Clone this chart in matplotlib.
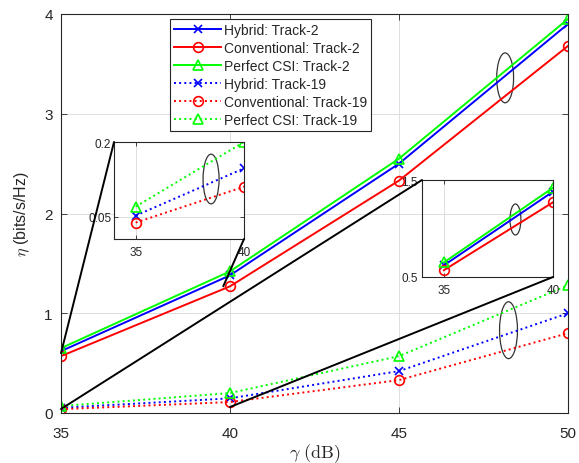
import matplotlib
matplotlib.use("Agg")
import matplotlib.pyplot as plt
from matplotlib.patches import Ellipse, ConnectionPatch

plt.rcParams['font.family'] = ['Liberation Sans', 'DejaVu Sans']
plt.rcParams['mathtext.fontset'] = 'cm'

gamma = [35, 40, 45, 50]
hyb_t2 = [0.62, 1.38, 2.50, 3.90]
conv_t2 = [0.57, 1.27, 2.33, 3.68]
perf_t2 = [0.65, 1.42, 2.55, 3.95]
hyb_t19 = [0.052, 0.147, 0.42, 1.00]
conv_t19 = [0.038, 0.11, 0.33, 0.80]
perf_t19 = [0.07, 0.20, 0.57, 1.28]

labels = ['Hybrid: Track-2', 'Conventional: Track-2', 'Perfect CSI: Track-2',
          'Hybrid: Track-19', 'Conventional: Track-19', 'Perfect CSI: Track-19']

series = [
    (hyb_t2, 'b', '-', 'x', 6, labels[0]),
    (conv_t2, 'r', '-', 'o', 7, labels[1]),
    (perf_t2, '#00ff00', '-', '^', 7.5, labels[2]),
    (hyb_t19, 'b', ':', 'x', 6, labels[3]),
    (conv_t19, 'r', ':', 'o', 7, labels[4]),
    (perf_t19, '#00ff00', ':', '^', 7.5, labels[5]),
]

W, H = 579, 464
fig = plt.figure(figsize=(W / 100, H / 100), dpi=100)
ax = fig.add_axes([61 / W, (H - 414) / H, 507 / W, 399 / H])

axc = '#262626'
gridc = '#dedede'

def style(a, fs, xpad, ypad, tl):
    for s in a.spines.values():
        s.set_color(axc)
        s.set_linewidth(0.8)
    a.tick_params(direction='in', top=True, right=True, colors=axc,
                  labelsize=fs, length=tl, width=0.6)
    a.tick_params(axis='x', pad=xpad)
    a.tick_params(axis='y', pad=ypad)
    a.grid(True, color=gridc, linewidth=0.7)
    a.set_axisbelow(True)

def plot_all(a, lw):
    for vals, c, ls, mk, ms, lab in series:
        a.plot(gamma, vals, color=c, linestyle=ls, marker=mk, markersize=ms,
               markerfacecolor='none', markeredgecolor=c, markeredgewidth=1.2,
               linewidth=lw, label=lab)

plot_all(ax, 1.4)
style(ax, 11, 9.5, 6, 4)
ax.set_xlim(35, 50)
ax.set_ylim(0, 4)
ax.set_xticks([35, 40, 45, 50])
ax.set_yticks([0, 1, 2, 3, 4])
ax.set_xlabel(r'$\gamma\ \mathrm{(dB)}$', fontsize=13, color=axc, labelpad=1)
ax.set_ylabel(r'$\eta$ (bits/s/Hz)', fontsize=11.5, color=axc, labelpad=9)

leg = ax.legend(loc='upper left', bbox_to_anchor=((170 - 61) / 507, (414 - 20) / 399),
                fontsize=10, frameon=True, fancybox=False, framealpha=1,
                edgecolor='#262626', handlelength=3.4, handletextpad=0.2,
                labelspacing=0.28, borderpad=0.3, borderaxespad=0)
leg.get_frame().set_linewidth(0.8)
for t in leg.get_texts():
    t.set_color('#262626')

# main ellipses
ax.add_patch(Ellipse((48.14, 3.36), 0.50, 0.50, fill=False, edgecolor='#333333', lw=0.9))
ax.add_patch(Ellipse((48.24, 0.83), 0.53, 0.57, fill=False, edgecolor='#333333', lw=0.9))

# inset 1 (Track-19)
ax1 = fig.add_axes([114 / W, (H - 240) / H, 130 / W, 97 / H])
plot_all(ax1, 1.4)
style(ax1, 8.5, 5, 2, 3)
ax1.set_xlim(34, 40)
ax1.set_ylim(0.005, 0.2)
ax1.set_xticks([35, 40])
ax1.set_yticks([0.05, 0.2])
ax1.set_yticklabels(['0.05', '0.2'])
ax1.add_patch(Ellipse((38.48, 0.1256), 0.74, 0.10, fill=False, edgecolor='#333333', lw=0.9))

# inset 2 (Track-2)
ax2 = fig.add_axes([422 / W, (H - 278) / H, 131 / W, 97 / H])
ax2.patch.set_alpha(0)
plot_all(ax2, 1.4)
style(ax2, 8.5, 5, 3, 3)
ax2.set_xlim(34, 40)
ax2.set_ylim(0.5, 1.5)
ax2.set_xticks([35, 40])
ax2.set_yticks([0.5, 1.5])
ax2.set_yticklabels(['0.5', '1.5'])
ax2.add_patch(Ellipse((38.28, 1.093), 0.50, 0.32, fill=False, edgecolor='#333333', lw=0.9))

# connectors
conns = [
    ((35, 0.60), ax1, (0, 1)),
    ((39.8, 1.27), ax1, (1, 0)),
    ((35, 0.04), ax2, (0, 1)),
    ((40, 0.06), ax2, (1, 0)),
]
for xy, a, corner in conns:
    cp = ConnectionPatch(xyA=xy, coordsA=ax.transData, xyB=corner, coordsB=a.transAxes,
                         color='black', lw=1.4)
    fig.add_artist(cp)

fig.savefig('out.png', dpi=100)
